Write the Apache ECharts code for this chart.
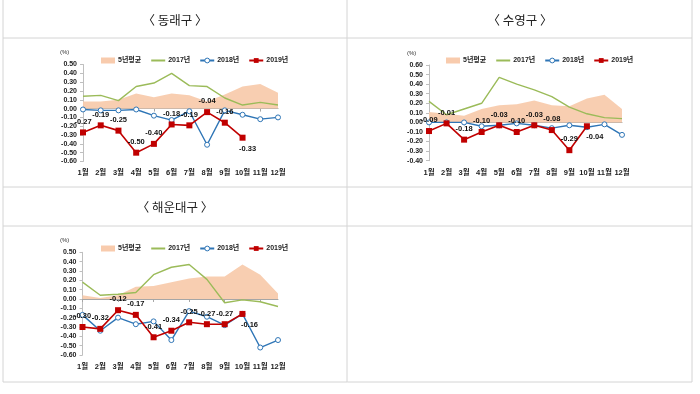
<!DOCTYPE html>
<html><head><meta charset="utf-8">
<script src="https://cdn.jsdelivr.net/npm/echarts@6/dist/echarts.min.js"></script>
<style>html,body{margin:0;padding:0;background:#fff}#c{width:700px;height:394px}</style>
</head><body><div id="c"></div>
<script>
const months = ['1월','2월','3월','4월','5월','6월','7월','8월','9월','10월','11월','12월'];
const seriesNames = ['5년평균','2017년','2018년','2019년'];
const panelTitles = ['〈 동래구 〉','〈 수영구 〉','〈 해운대구 〉'];

// 동래구
const dongnae_avg5 = [0.08,0.08,0.10,0.17,0.13,0.17,0.15,0.08,0.16,0.25,0.28,0.18];
const dongnae_2017 = [0.14,0.15,0.09,0.25,0.29,0.40,0.26,0.25,0.12,0.04,0.07,0.04];
const dongnae_2018 = [-0.01,-0.02,-0.02,-0.01,-0.08,-0.13,-0.03,-0.41,-0.02,-0.07,-0.12,-0.10];
const dongnae_2019 = [-0.27,-0.19,-0.25,-0.50,-0.40,-0.18,-0.19,-0.04,-0.16,-0.33];

// 수영구
const suyeong_avg5 = [0.11,0.09,0.07,0.14,0.18,0.19,0.23,0.18,0.17,0.25,0.29,0.14];
const suyeong_2017 = [0.22,0.08,0.14,0.20,0.47,0.40,0.34,0.27,0.16,0.09,0.05,0.04];
const suyeong_2018 = [0.00,0.00,0.00,-0.04,-0.03,-0.01,-0.03,-0.06,-0.03,-0.05,-0.02,-0.13];
const suyeong_2019 = [-0.09,-0.01,-0.18,-0.10,-0.03,-0.10,-0.03,-0.08,-0.29,-0.04];

// 해운대구
const haeundae_avg5 = [0.04,0.01,0.04,0.13,0.14,0.18,0.22,0.24,0.24,0.37,0.26,0.06];
const haeundae_2017 = [0.18,0.04,0.05,0.07,0.26,0.34,0.37,0.21,-0.04,-0.01,-0.03,-0.08];
const haeundae_2018 = [-0.17,-0.34,-0.20,-0.27,-0.24,-0.44,-0.13,-0.19,-0.28,-0.16,-0.52,-0.44];
const haeundae_2019 = [-0.30,-0.32,-0.12,-0.17,-0.41,-0.34,-0.25,-0.27,-0.27,-0.16];

const yTicks = [[-0.6,0.5],[-0.4,0.6],[-0.6,0.5]];

const FONT = 'Arial, "Liberation Sans", "Noto Sans CJK KR", sans-serif';
const C_AVG = '#F8CBAD', C17 = '#9BBB59', C18 = '#2E75B6', C19 = '#C00000';

const panels = [
  {data:[dongnae_avg5,dongnae_2017,dongnae_2018,dongnae_2019], grid:{left:83,top:64.5,width:195,height:97}, legend:{left:96,top:52}, pct:[66,53], below:{9:[5,0]}},
  {data:[suyeong_avg5,suyeong_2017,suyeong_2018,suyeong_2019], grid:{left:429,top:65,width:193,height:95.7}, legend:{left:441,top:52}, pct:[413,54], below:{9:[8,0]}},
  {data:[haeundae_avg5,haeundae_2017,haeundae_2018,haeundae_2019], grid:{left:82.5,top:252.3,width:195.5,height:102.7}, legend:{left:96,top:240}, pct:[66,241], below:{9:[7,0]}}
];

const grids=[], xAxes=[], yAxes=[], series=[], legends=[], graphics=[];
panels.forEach((p,i)=>{
  grids.push(Object.assign({}, p.grid));
  xAxes.push({type:'category', gridIndex:i, data:months, boundaryGap:false,
    axisLine:{onZero:true, lineStyle:{color:'#a6a6a6', width:1}},
    axisTick:{show:true, inside:false, length:3, lineStyle:{color:'#a6a6a6'}},
    axisLabel:{show:false}, splitLine:{show:false}});
  xAxes.push({type:'category', gridIndex:i, data:months, boundaryGap:false, position:'bottom',
    axisLine:{show:false, onZero:false}, axisTick:{show:false},
    axisLabel:{show:true, fontSize:7.5, fontWeight:'bold', color:'#222', fontFamily:FONT, margin:8, interval:0},
    splitLine:{show:false}});
  yAxes.push({type:'value', gridIndex:i, min:yTicks[i][0], max:yTicks[i][1], interval:0.1,
    axisLine:{show:true, lineStyle:{color:'#bfbfbf'}},
    axisTick:{show:true, length:3, lineStyle:{color:'#bfbfbf'}},
    splitLine:{show:false},
    axisLabel:{fontSize:7, fontWeight:'bold', color:'#222', fontFamily:FONT, margin:6,
      formatter:v=>v.toFixed(2)}});
  const xi = i*2;
  series.push({name:seriesNames[0], type:'line', xAxisIndex:xi, yAxisIndex:i, data:p.data[0],
    showSymbol:false, symbol:'none', lineStyle:{width:0}, itemStyle:{color:C_AVG},
    areaStyle:{color:C_AVG, opacity:0.95}, z:1, silent:true});
  series.push({name:seriesNames[1], type:'line', xAxisIndex:xi, yAxisIndex:i, data:p.data[1],
    symbol:'none', lineStyle:{width:1.4, color:C17}, itemStyle:{color:C17}, z:2});
  series.push({name:seriesNames[2], type:'line', xAxisIndex:xi, yAxisIndex:i, data:p.data[2],
    symbol:'circle', symbolSize:5, lineStyle:{width:1.4, color:C18},
    itemStyle:{color:'#fff', borderColor:C18, borderWidth:1}, z:3});
  series.push({name:seriesNames[3], type:'line', xAxisIndex:xi, yAxisIndex:i,
    data:p.data[3].map((v,k)=> p.below[k] ? {value:v, label:{position:'bottom', distance:4, offset:p.below[k]}} : v),
    symbol:'rect', symbolSize:6, lineStyle:{width:1.6, color:C19}, itemStyle:{color:C19}, z:4,
    label:{show:true, position:'top', distance:4, fontSize:7.5, fontWeight:'bold', color:'#111', fontFamily:FONT,
      formatter:o=>Number(o.value).toFixed(2)}});
  legends.push({left:p.legend.left, top:p.legend.top, itemWidth:14, itemHeight:6, itemGap:9,
    selectedMode:false,
    textStyle:{fontSize:7, fontWeight:'bold', color:'#222', fontFamily:FONT, padding:[0,0,0,-2]},
    data:[{name:seriesNames[0], icon:'rect', itemStyle:{color:C_AVG}},
          {name:seriesNames[1], itemStyle:{opacity:0}},
          {name:seriesNames[2], itemStyle:{color:'#fff', borderColor:C18, borderWidth:1}},
          {name:seriesNames[3]}]});
  graphics.push({type:'text', left:p.pct[0]-6, top:p.pct[1]-4,
    style:{text:'(%)', fontSize:6, fill:'#333', fontFamily:FONT}});
});

// table lines
const LC = '#d4d4d4';
const lines = [
  [3,0,3,382],[692,0,692,382],[347,0,347,382],
  [3,38,692,38],[3,187,692,187],[3,226,692,226],[3,382,692,382]
];
lines.forEach(l=>graphics.push({type:'line', shape:{x1:l[0],y1:l[1],x2:l[2],y2:l[3]},
  style:{stroke:LC, lineWidth:1}, silent:true}));
// headers
[[175,20,panelTitles[0]],[520,20,panelTitles[1]],[175,207,panelTitles[2]]].forEach(h=>{
  graphics.push({type:'text', x:h[0], y:h[1],
    style:{text:h[2], fontSize:12.5, fill:'#222', fontFamily:'"Noto Sans CJK KR", sans-serif',
      align:'center', verticalAlign:'middle'}});
});

const chart = echarts.init(document.getElementById('c'), null, {renderer:'canvas'});
chart.setOption({
  animation:false,
  backgroundColor:'#fff',
  grid:grids, xAxis:xAxes, yAxis:yAxes, series:series, legend:legends, graphic:graphics
});
</script></body></html>
